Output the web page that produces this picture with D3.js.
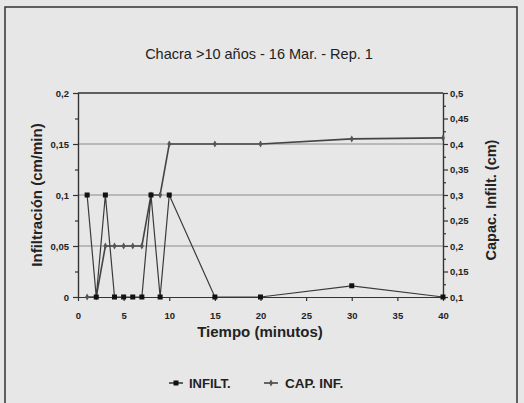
<!DOCTYPE html>
<html>
<head>
<meta charset="utf-8">
<script src="https://cdn.jsdelivr.net/npm/d3@7"></script>
<style>
  body { margin: 0; background: #e7e7e7; }
  svg { display: block; font-family: "Liberation Sans", Arial, sans-serif; }
</style>
</head>
<body>
<svg id="chart"></svg>
<script>
const tiempo = [1, 2, 3, 4, 5, 6, 7, 8, 9, 10, 15, 20, 30, 40];
const infilt = [0.1, 0, 0.1, 0, 0, 0, 0, 0.1, 0, 0.1, 0, 0, 0.011, 0];
const capInf = [0.1, 0.1, 0.2, 0.2, 0.2, 0.2, 0.2, 0.3, 0.3, 0.4, 0.4, 0.4, 0.41, 0.412];
const xTicks = [0, 5, 10, 15, 20, 25, 30, 35, 40];
const yLeftTicks = [0, 0.05, 0.1, 0.15, 0.2];
const yRightTicks = [0.1, 0.15, 0.2, 0.25, 0.3, 0.35, 0.4, 0.45, 0.5];

const width = 524, height = 403;
const plotLeft = 78, plotRight = 443, plotTop = 93, plotBottom = 297;

const svg = d3.select("#chart").attr("width", width).attr("height", height);

svg.append("rect").attr("width", width).attr("height", height).attr("fill", "#e7e7e7");
svg.append("rect")
  .attr("x", 5).attr("y", 7).attr("width", 512).attr("height", 410)
  .attr("fill", "none").attr("stroke", "#333").attr("stroke-width", 1.5);

const es = d3.formatLocale({decimal: ",", thousands: ".", grouping: [3], currency: ["", "€"]});
const fmt = es.format("~g");

const x = d3.scaleLinear().domain([0, 40]).range([plotLeft, plotRight]);
const yL = d3.scaleLinear().domain([0, 0.2]).range([plotBottom, plotTop]);
const yR = d3.scaleLinear().domain([0.1, 0.5]).range([plotBottom, plotTop]);

// gridlines
svg.append("g")
  .selectAll("line")
  .data([0.05, 0.1, 0.15])
  .enter().append("line")
  .attr("x1", plotLeft).attr("x2", plotRight)
  .attr("y1", d => yL(d)).attr("y2", d => yL(d))
  .attr("stroke", "#8a8a8a").attr("stroke-width", 1);

svg.append("line")
  .attr("x1", plotLeft).attr("x2", plotRight)
  .attr("y1", yL(0.2)).attr("y2", yL(0.2))
  .attr("stroke", "#333").attr("stroke-width", 1.3);

function styleAxis(g) {
  g.selectAll("path, line").attr("stroke", "#333").attr("stroke-width", 1.2);
  g.selectAll("text").attr("fill", "#222").style("font-size", "9.5px").style("font-weight", "bold");
}

const minorL = d3.range(0.025, 0.2, 0.05);
const minorR = d3.range(0.125, 0.5, 0.05);

svg.append("g").attr("transform", `translate(${plotLeft},0)`)
  .call(d3.axisLeft(yL).tickValues(minorL).tickSize(3).tickFormat(""))
  .call(styleAxis);
svg.append("g").attr("transform", `translate(${plotLeft},0)`)
  .call(d3.axisLeft(yL).tickValues(yLeftTicks).tickSize(5).tickSizeOuter(0).tickPadding(4).tickFormat(fmt))
  .call(styleAxis);

svg.append("g").attr("transform", `translate(${plotRight},0)`)
  .call(d3.axisRight(yR).tickValues(minorR).tickSize(3).tickFormat(""))
  .call(styleAxis);
svg.append("g").attr("transform", `translate(${plotRight},0)`)
  .call(d3.axisRight(yR).tickValues(yRightTicks).tickSize(5).tickSizeOuter(0).tickPadding(2).tickFormat(fmt))
  .call(styleAxis);

svg.append("g").attr("transform", `translate(0,${plotBottom})`)
  .call(d3.axisBottom(x).tickValues(xTicks).tickSize(4).tickSizeOuter(0).tickPadding(11))
  .call(styleAxis);

// series
const capLine = d3.line().x((d, i) => x(tiempo[i])).y(d => yR(d));
const infLine = d3.line().x((d, i) => x(tiempo[i])).y(d => yL(d));

svg.append("path")
  .datum(capInf)
  .attr("d", capLine)
  .attr("fill", "none").attr("stroke", "#444").attr("stroke-width", 1.6);

svg.append("g")
  .selectAll("path")
  .data(capInf)
  .enter().append("path")
  .attr("d", d3.symbol(d3.symbolDiamond, 14))
  .attr("transform", (d, i) => `translate(${x(tiempo[i])},${yR(d)})`)
  .attr("fill", "#555");

svg.append("path")
  .datum(infilt)
  .attr("d", infLine)
  .attr("fill", "none").attr("stroke", "#3a3a3a").attr("stroke-width", 1.2);

svg.append("g")
  .selectAll("rect")
  .data(infilt)
  .enter().append("rect")
  .attr("x", (d, i) => x(tiempo[i]) - 2.5)
  .attr("y", d => yL(d) - 2.5)
  .attr("width", 5).attr("height", 5)
  .attr("fill", "#111");

// titles
svg.append("text")
  .attr("x", 259).attr("y", 59)
  .attr("text-anchor", "middle")
  .style("font-size", "14.5px").attr("fill", "#222")
  .text("Chacra >10 años - 16 Mar. - Rep. 1");

svg.append("text")
  .attr("x", 260).attr("y", 337)
  .attr("text-anchor", "middle")
  .style("font-size", "15px").style("font-weight", "bold").attr("fill", "#222")
  .text("Tiempo (minutos)");

svg.append("text")
  .attr("transform", "translate(36,195) rotate(-90)")
  .attr("text-anchor", "middle").attr("dominant-baseline", "central")
  .style("font-size", "15px").style("font-weight", "bold").attr("fill", "#222")
  .text("Infiltración (cm/min)");

svg.append("text")
  .attr("transform", "translate(491,200) rotate(-90)")
  .attr("text-anchor", "middle").attr("dominant-baseline", "central")
  .style("font-size", "14.5px").style("font-weight", "bold").attr("fill", "#222")
  .text("Capac. Infilt. (cm)");

// legend
const legendY = 383;
const legend = svg.append("g");
legend.append("line")
  .attr("x1", 169).attr("x2", 183).attr("y1", legendY).attr("y2", legendY)
  .attr("stroke", "#333").attr("stroke-width", 1.5);
legend.append("rect")
  .attr("x", 173.5).attr("y", legendY - 2.5).attr("width", 5).attr("height", 5)
  .attr("fill", "#111");
legend.append("text")
  .attr("x", 189).attr("y", legendY + 4.5)
  .style("font-size", "13px").style("font-weight", "bold").attr("fill", "#222")
  .text("INFILT.");

legend.append("line")
  .attr("x1", 264).attr("x2", 278).attr("y1", legendY).attr("y2", legendY)
  .attr("stroke", "#444").attr("stroke-width", 1.6);
legend.append("path")
  .attr("d", d3.symbol(d3.symbolDiamond, 14))
  .attr("transform", `translate(271,${legendY})`)
  .attr("fill", "#555");
legend.append("text")
  .attr("x", 285).attr("y", legendY + 4.5)
  .style("font-size", "13.5px").style("font-weight", "bold").attr("fill", "#222")
  .text("CAP. INF.");
</script>
</body>
</html>
